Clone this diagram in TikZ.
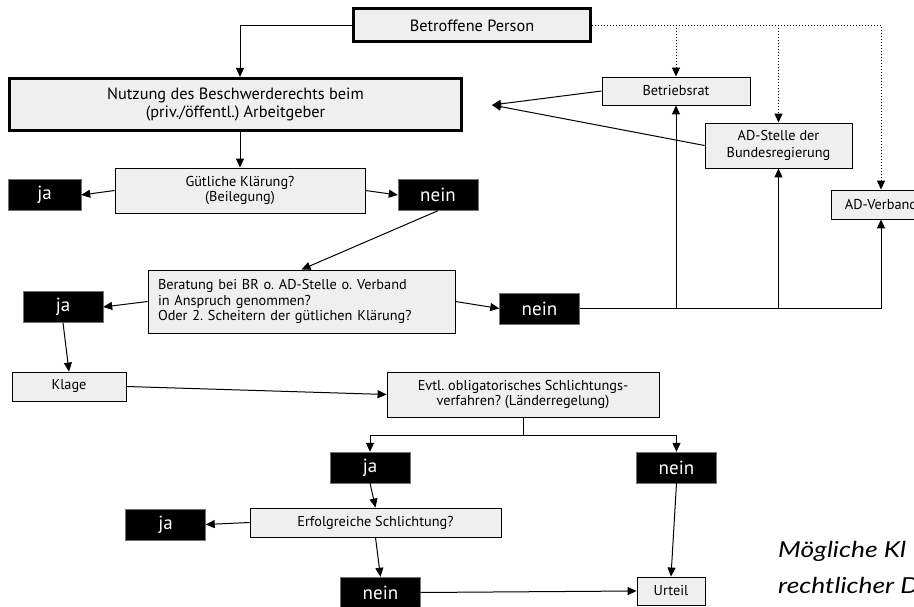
\documentclass[tikz,border=0pt]{standalone}
\usepackage{fontspec}
\setmainfont{PT Sans}
\newfontfamily\capfont{Lato}[FakeStretch=1.2]
\usetikzlibrary{arrows.meta}
\definecolor{boxgray}{HTML}{EFEFEF}
\frenchspacing

\begin{document}
\begin{tikzpicture}[x=1pt,y=-1pt,
    box/.style={draw,fill=boxgray,line width=0.9pt,inner sep=0pt,align=center,
        font=\fontsize{14.3}{15.5}\selectfont},
    bigbox/.style={box,line width=3pt,font=\fontsize{16.3}{18}\selectfont},
    answer/.style={draw=black!55,fill=black,text=white,inner sep=0pt,
        minimum width=80pt,minimum height=31pt,font=\fontsize{19}{22}\selectfont},
    arr/.style={-{Triangle[length=9pt,width=8pt]},line width=1pt},
    dots/.style={dotted,line width=1pt}]
    \clip (0,0) rectangle (914,607);
    \useasboundingbox (0,0) rectangle (914,607);
    %% Person und Arbeitgeber
    \node[bigbox,minimum width=237pt,minimum height=33pt] (pers) at (472,25.5) {Betroffene Person};
    \node[bigbox,minimum width=452pt,minimum height=52pt] (nutz) at (235.5,104.5)
        {Nutzung des Beschwerderechts beim\\(priv./öffentl.) Arbeitgeber};
    \node[box,minimum width=250pt,minimum height=45pt] (guet) at (240,190.5)
        {Gütliche Klärung?\\(Beilegung)};
    \node[answer,minimum width=73pt] (ja1) at (44.5,195) {ja};
    \node[answer] (nein1) at (438,195) {nein};
    %% Beratung
    \node[box,minimum height=63pt,text width=287pt,align=left,inner xsep=10pt] (berat) at (301.5,301.5)
        {Beratung bei BR o. AD-Stelle o. Verband\\in Anspruch genommen?\\Oder 2. Scheitern der gütlichen Klärung?};
    \node[answer] (ja2) at (63,307) {ja};
    \node[answer] (nein2) at (539.5,308.5) {nein};
    %% Stellen
    \node[box,minimum width=148pt,minimum height=28pt] (brat) at (676,91) {Betriebsrat};
    \node[box,minimum width=147pt,minimum height=45pt,font=\fontsize{14.3}{17}\selectfont] (adst) at (778.5,145.5)
        {AD-Stelle der\\Bundesregierung};
    \node[box,minimum width=100pt,minimum height=29pt] (adv) at (881,204.5) {AD-Verband};
    \coordinate (tip) at (492,105);
    %% Klage
    \node[box,minimum width=114pt,minimum height=29pt] (klage) at (69,386.5) {Klage};
    \node[box,minimum width=272pt,minimum height=45pt] (evtl) at (523,394.5)
        {Evtl. obligatorisches Schlichtungs-\\verfahren? (Länderregelung)};
    \node[answer] (ja3) at (370,467.5) {ja};
    \node[answer] (nein3) at (676.5,467.5) {nein};
    \node[box,minimum width=251pt,minimum height=29pt] (erfo) at (375.5,522.5) {Erfolgreiche Schlichtung?};
    \node[answer] (ja4) at (165.5,524.5) {ja};
    \node[answer] (nein4) at (380.5,592.5) {nein};
    \node[box,minimum width=68pt,minimum height=28pt] (urteil) at (671,591) {Urteil};
    %% Caption
    \node[anchor=base west,inner sep=0pt,font=\capfont\itshape\fontsize{22}{25}\selectfont] (capA) at (778,557) {Mögliche Kl};
    \node[anchor=base west,inner sep=0pt,font=\capfont\itshape\fontsize{22}{25}\selectfont] (capB) at (778,593) {rechtlicher D};
    %% Connectors
    \draw[arr] (pers.west) -| (guet.north |- nutz.north);
    \draw[arr] (guet.north |- nutz.south) -- (guet.north);
    \draw[arr] (guet.west) -- (ja1.east);
    \draw[arr] (guet.east) -- (nein1.west);
    \draw[arr] (nein1.south) -- (berat.north);
    \draw[arr] (berat.west) -- (ja2.east);
    \draw[arr] (berat.east) -- (nein2.west);
    \draw[arr] (nein2.east) -| (adv.south);
    \foreach \s in {brat,adst}
        \draw[arr] (\s.south |- nein2.east) -- (\s.south);
    \draw[dots,arr] (pers.east) -| (adv.north);
    \foreach \s in {brat,adst}
        \draw[dots,arr] (\s.north |- pers.east) -- (\s.north);
    \draw[arr] (brat.west) -- (tip);
    \draw[arr] (adst.west) -- (tip);
    \draw[arr] (ja2.south) -- (klage.north);
    \draw[arr] (klage.east) -- (evtl.west);
    \draw (evtl.south) -- ++(0,18) coordinate (fork);
    \draw[arr] (fork) -| (ja3.north);
    \draw[arr] (fork) -| (nein3.north);
    \draw[arr] (ja3.south) -- (erfo.north);
    \draw[arr] (erfo.west) -- (ja4.east);
    \draw[arr] (erfo.south) -- (nein4.north);
    \draw[arr] (nein4.east) -- (urteil.west);
    \draw[arr] (nein3.south) -- (urteil.north);
\end{tikzpicture}
\end{document}
